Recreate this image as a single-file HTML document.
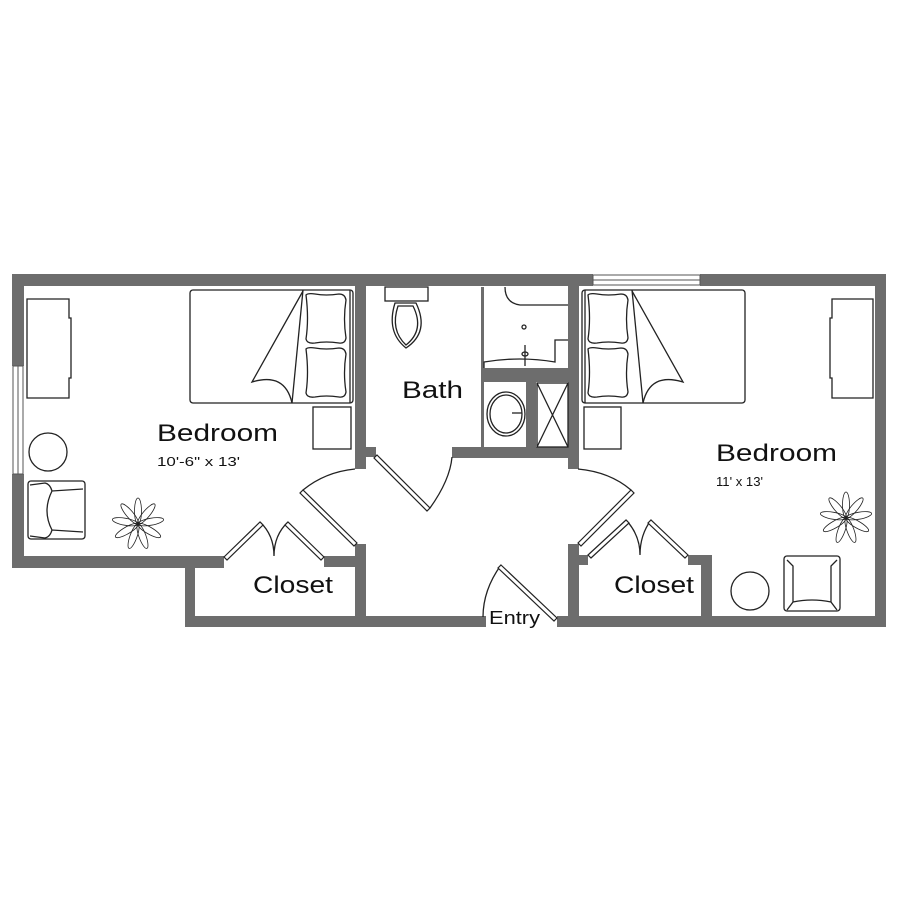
<!DOCTYPE html>
<html><head><style>html,body{margin:0;padding:0;background:#fff}svg{display:block}text{font-family:"Liberation Sans",sans-serif;fill:#111}</style></head>
<body>
<svg width="900" height="900" viewBox="0 0 900 900" xmlns="http://www.w3.org/2000/svg">
<defs>
<g id="plant" fill="none" stroke="#222" stroke-width="0.8">
<ellipse cx="0" cy="-13" rx="3.5" ry="13"/>
<ellipse cx="0" cy="-13" rx="3.5" ry="13" transform="rotate(40)"/>
<ellipse cx="0" cy="-13" rx="3.5" ry="13" transform="rotate(80)"/>
<ellipse cx="0" cy="-13" rx="3.5" ry="13" transform="rotate(120)"/>
<ellipse cx="0" cy="-13" rx="3.5" ry="13" transform="rotate(160)"/>
<ellipse cx="0" cy="-13" rx="3.5" ry="13" transform="rotate(200)"/>
<ellipse cx="0" cy="-13" rx="3.5" ry="13" transform="rotate(240)"/>
<ellipse cx="0" cy="-13" rx="3.5" ry="13" transform="rotate(280)"/>
<ellipse cx="0" cy="-13" rx="3.5" ry="13" transform="rotate(320)"/>
</g>
<g id="pillow" fill="none" stroke="#222" stroke-width="1.3">
<path d="M3,3 Q5,1 12,2 Q23,4 36,2 Q42,2 43,8 Q40,27 43,46 Q42,52 36,51 Q23,49 12,51 Q4,52 3,47 Q6,27 3,3Z"/>
</g>
</defs>
<g fill="#6d6d6d">
<rect x="12" y="274" width="581" height="12"/>
<rect x="700" y="274" width="186" height="12"/>
<rect x="12" y="274" width="12" height="92"/>
<rect x="12" y="474" width="12" height="94"/>
<rect x="12" y="556" width="212" height="12"/>
<rect x="185" y="556" width="10" height="71"/>
<rect x="185" y="616" width="301" height="11"/>
<rect x="324" y="556" width="42" height="11"/>
<rect x="355" y="274" width="11" height="195"/>
<rect x="355" y="544" width="11" height="83"/>
<rect x="355" y="447" width="21" height="10"/>
<rect x="452" y="447" width="127" height="11"/>
<rect x="482" y="368" width="86" height="14"/>
<rect x="526" y="382" width="10" height="65"/>
<rect x="481" y="287" width="3" height="160"/>
<rect x="568" y="274" width="11" height="195"/>
<rect x="568" y="544" width="11" height="83"/>
<rect x="578" y="555" width="10" height="10"/>
<rect x="557" y="616" width="329" height="11"/>
<rect x="688" y="555" width="24" height="10"/>
<rect x="701" y="555" width="11" height="72"/>
<rect x="875" y="274" width="11" height="353"/>
</g>
<g fill="#fff" stroke="#555" stroke-width="1">
<rect x="13" y="366" width="10" height="108"/>
<rect x="593" y="275" width="107" height="10"/>
</g>
<line x1="18" y1="366" x2="18" y2="474" stroke="#555"/>
<line x1="593" y1="280" x2="700" y2="280" stroke="#555"/>
<g fill="none" stroke="#222" stroke-width="1.3">
<path d="M27,299 H69 V318 H71 V378 H69 V398 H27Z"/>
<rect x="190" y="290" width="163" height="113" rx="3"/>
<line x1="350" y1="290" x2="350" y2="403"/>
<line x1="303" y1="290" x2="292" y2="403"/>
<path d="M303,291 L252,382 Q285,372 292,403"/>
<rect x="313" y="407" width="38" height="42"/>
<circle cx="48" cy="452" r="19"/>
<rect x="28" y="481" width="57" height="58" rx="3"/>
<path d="M30,485 L45,483 Q50,484 52,491 L83,489 M30,536 L45,538 Q50,537 52,530 L83,532 M52,491 Q42,511 52,530"/>
<rect x="582" y="290" width="163" height="113" rx="3"/>
<line x1="585" y1="290" x2="585" y2="403"/>
<line x1="632" y1="290" x2="643" y2="403"/>
<path d="M632,291 L683,382 Q650,372 643,403"/>
<rect x="584" y="407" width="37" height="42"/>
<path d="M832,299 H873 V398 H832 V378 H830 V318 H832Z"/>
<circle cx="750" cy="591" r="19"/>
<rect x="784" y="556" width="56" height="55" rx="3"/>
<path d="M787,560 L793,566 L793,602 L787,610 M837,560 L831,566 L831,602 L837,610 M793,602 Q812,598 831,602"/>
<rect x="385" y="287" width="43" height="14"/>
<path d="M398,306 L413,306 Q425,330 406,345 Q390,330 398,306Z"/>
<path d="M395,303 L416,303 Q430,332 406,348 Q386,332 395,303Z"/>
<path d="M505,287 Q505,303 520,305 L568,305"/>
<path d="M484,368 L484,362 Q520,356 555,362 L555,340 L568,340"/>
<circle cx="524" cy="327" r="2"/>
<line x1="525" y1="345" x2="525" y2="366"/>
<ellipse cx="525" cy="354" rx="3" ry="2"/>
<ellipse cx="506" cy="414" rx="19" ry="22"/>
<ellipse cx="506" cy="414" rx="16" ry="19"/>
<line x1="512" y1="413" x2="522" y2="413"/>
<rect x="537" y="383" width="31" height="64"/>
<path d="M537,383 L568,447 M568,383 L537,447"/>
<path d="M303,490 Q325,472 355,469"/>
<path d="M430,508 Q450,480 452,457"/>
<path d="M631,490 Q610,472 578,469"/>
<path d="M501,565 Q483,590 483,617"/>
<path d="M260,522 Q274,535 274,556 Q274,535 288,522"/>
<path d="M626,520 Q640,535 640,555 Q640,535 651,520"/>
</g>
<g fill="#fff" stroke="#222" stroke-width="1.2">
<polygon points="357,543 303,490 300,493 354,546"/>
<polygon points="377,455 430,508 427,511 374,458"/>
<polygon points="578,543 631,490 634,493 581,546"/>
<polygon points="501,565 557,618 554,621 498,568"/>
<polygon points="224,557 260,522 263,525 227,560"/>
<polygon points="324,557 288,522 285,525 321,560"/>
<polygon points="588,555 626,520 629,523 591,558"/>
<polygon points="688,555 651,520 648,523 685,558"/>
</g>
<use href="#plant" x="138" y="524"/>
<use href="#plant" x="846" y="518"/>
<g transform="translate(303,292)"><use href="#pillow"/></g>
<g transform="translate(303,346)"><use href="#pillow"/></g>
<g transform="translate(585,292)"><use href="#pillow"/></g>
<g transform="translate(585,346)"><use href="#pillow"/></g>
<text x="157" y="441" font-size="24" textLength="121" lengthAdjust="spacingAndGlyphs">Bedroom</text>
<text x="157" y="466" font-size="13" fill="#333" textLength="83" lengthAdjust="spacingAndGlyphs">10'-6" x 13'</text>
<text x="402" y="398" font-size="24" textLength="61" lengthAdjust="spacingAndGlyphs">Bath</text>
<text x="253" y="593" font-size="24" textLength="80" lengthAdjust="spacingAndGlyphs">Closet</text>
<text x="489" y="624" font-size="18" textLength="51" lengthAdjust="spacingAndGlyphs">Entry</text>
<text x="716" y="461" font-size="24" textLength="121" lengthAdjust="spacingAndGlyphs">Bedroom</text>
<text x="716" y="486" font-size="13" fill="#333" textLength="47" lengthAdjust="spacingAndGlyphs">11' x 13'</text>
<text x="614" y="593" font-size="24" textLength="80" lengthAdjust="spacingAndGlyphs">Closet</text>
</svg>
</body></html>
